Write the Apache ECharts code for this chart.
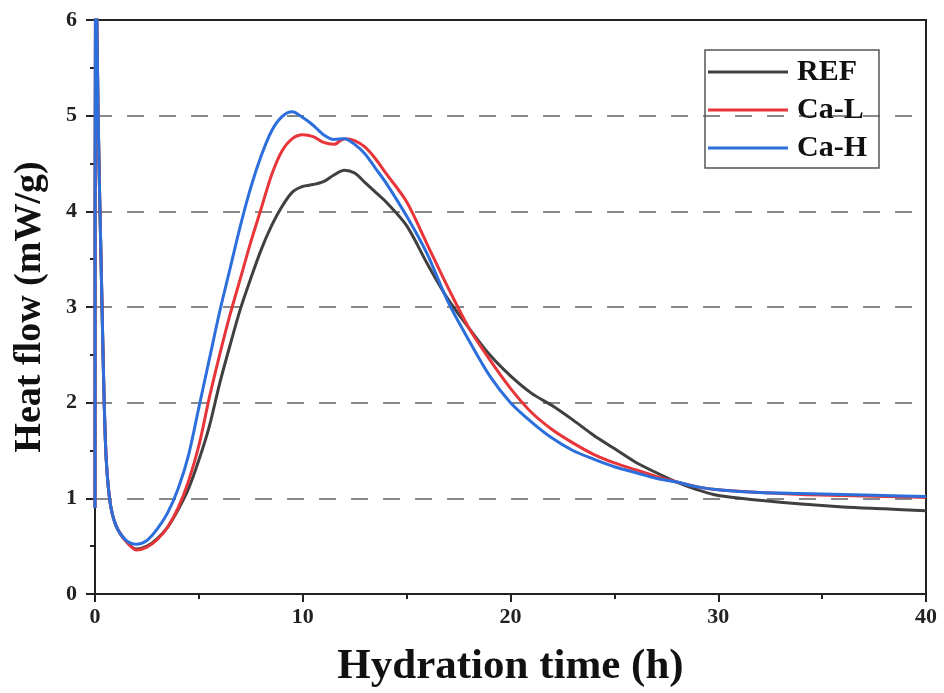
<!DOCTYPE html>
<html>
<head>
<meta charset="utf-8">
<script src="https://cdn.jsdelivr.net/npm/echarts@6/dist/echarts.min.js"></script>
<style>html,body{margin:0;padding:0;background:#fff;}#chart{width:944px;height:693px;}</style>
</head>
<body>
<div id="chart"></div>
<script>
const seriesNames = ['REF', 'Ca-L', 'Ca-H'];
const hours = [0, 0.03, 0.15, 0.3, 0.5, 0.7, 1.0, 1.5, 2.0, 2.5, 3, 3.5, 4, 4.5, 5, 5.5, 6, 6.5, 7, 7.5, 8, 8.5, 9, 9.5, 10, 10.5, 11, 11.5, 12, 12.5, 13, 13.5, 14, 15, 16, 17, 18, 19, 20, 21, 22, 23, 24, 25, 26, 27, 28, 29, 30, 32, 34, 36, 38, 40];
const refFlow = [0.9, 7, 5.0, 3.4, 1.6, 1.0, 0.72, 0.55, 0.47, 0.5, 0.58, 0.7, 0.88, 1.1, 1.4, 1.75, 2.2, 2.6, 2.98, 3.3, 3.6, 3.85, 4.05, 4.2, 4.26, 4.28, 4.31, 4.38, 4.43, 4.4, 4.3, 4.2, 4.1, 3.85, 3.45, 3.08, 2.78, 2.5, 2.28, 2.1, 1.97, 1.82, 1.66, 1.52, 1.38, 1.27, 1.17, 1.09, 1.03, 0.98, 0.94, 0.91, 0.89, 0.87];
const caLFlow = [0.9, 7, 5.0, 3.4, 1.6, 1.0, 0.72, 0.55, 0.46, 0.49, 0.57, 0.7, 0.9, 1.18, 1.55, 2.05, 2.5, 2.92, 3.3, 3.68, 4.03, 4.38, 4.63, 4.76, 4.8, 4.78, 4.72, 4.7, 4.76, 4.74, 4.67, 4.55, 4.4, 4.1, 3.65, 3.2, 2.78, 2.45, 2.15, 1.9, 1.72, 1.58, 1.46, 1.37, 1.3, 1.23, 1.17, 1.12, 1.09, 1.06, 1.04, 1.03, 1.02, 1.01];
const caHFlow = [0.9, 7, 5.0, 3.4, 1.6, 1.0, 0.72, 0.56, 0.52, 0.56, 0.68, 0.85, 1.1, 1.45, 1.95, 2.45, 2.95, 3.4, 3.85, 4.25, 4.58, 4.84, 4.99, 5.04, 4.98, 4.9, 4.8, 4.75, 4.76, 4.7, 4.6, 4.45, 4.3, 3.95, 3.55, 3.05, 2.65, 2.28, 2.0, 1.8, 1.63, 1.5, 1.41, 1.33, 1.27, 1.21, 1.17, 1.12, 1.09, 1.06, 1.05, 1.04, 1.03, 1.02];
const xTicks = [0, 10, 20, 30, 40];
const yTicks = [0, 1, 2, 3, 4, 5, 6];

const colors = ['#404040', '#e8353a', '#2c6fdc'];
const flows = [refFlow, caLFlow, caHFlow];
const FONT = "'Liberation Serif','Times New Roman',serif";
const gridColors = yTicks.map((v, i) => i === yTicks.length - 1 ? 'rgba(0,0,0,0)' : '#888');

const chart = echarts.init(document.getElementById('chart'));
chart.setOption({
  animation: false,
  backgroundColor: '#fff',
  grid: { left: 95, right: 18, top: 20, bottom: 97, show: true, borderColor: '#222', borderWidth: 2, containLabel: false },
  legend: {
    orient: 'vertical', left: 705, top: 50,
    data: seriesNames,
    icon: 'rect', itemWidth: 80, itemHeight: 3, itemGap: 8,
    padding: [7, 12, 5, 3],
    borderColor: '#555', borderWidth: 1.5,
    textStyle: { fontFamily: FONT, fontWeight: 'bold', fontSize: 30, color: '#111', lineHeight: 30, padding: [0, 0, 0, 4] }
  },
  xAxis: {
    type: 'value', min: xTicks[0], max: xTicks[xTicks.length - 1], interval: 10,
    name: 'Hydration time (h)', nameLocation: 'middle', nameGap: 51,
    nameTextStyle: { fontFamily: FONT, fontWeight: 'bold', fontSize: 43, color: '#111' },
    axisLine: { lineStyle: { color: '#222', width: 2 } },
    axisTick: { show: true, inside: false, length: 8, lineStyle: { color: '#222', width: 2 } },
    minorTick: { show: true, splitNumber: 2, length: 5, lineStyle: { color: '#222', width: 2 } },
    axisLabel: { fontFamily: FONT, fontWeight: 'bold', fontSize: 22, color: '#222', margin: 12 },
    splitLine: { show: false }
  },
  yAxis: {
    type: 'value', min: yTicks[0], max: yTicks[yTicks.length - 1], interval: 1,
    name: 'Heat flow (mW/g)', nameLocation: 'middle', nameGap: 46,
    nameTextStyle: { fontFamily: FONT, fontWeight: 'bold', fontSize: 38, color: '#111' },
    axisLine: { lineStyle: { color: '#222', width: 2 } },
    axisTick: { show: true, inside: false, length: 9, lineStyle: { color: '#222', width: 2 } },
    minorTick: { show: true, splitNumber: 2, length: 5, lineStyle: { color: '#222', width: 2 } },
    axisLabel: { fontFamily: FONT, fontWeight: 'bold', fontSize: 22, color: '#222', margin: 18 },
    splitLine: { show: true, lineStyle: { color: gridColors, width: 2, type: [17, 15] } }
  },
  series: seriesNames.map((name, i) => ({
    name: name,
    type: 'line',
    data: hours.map((h, k) => [h, flows[i][k]]),
    showSymbol: false, symbol: 'none',
    smooth: 0.3, clip: true,
    lineStyle: { color: colors[i], width: 3 },
    itemStyle: { color: colors[i] }
  }))
});
</script>
</body>
</html>
